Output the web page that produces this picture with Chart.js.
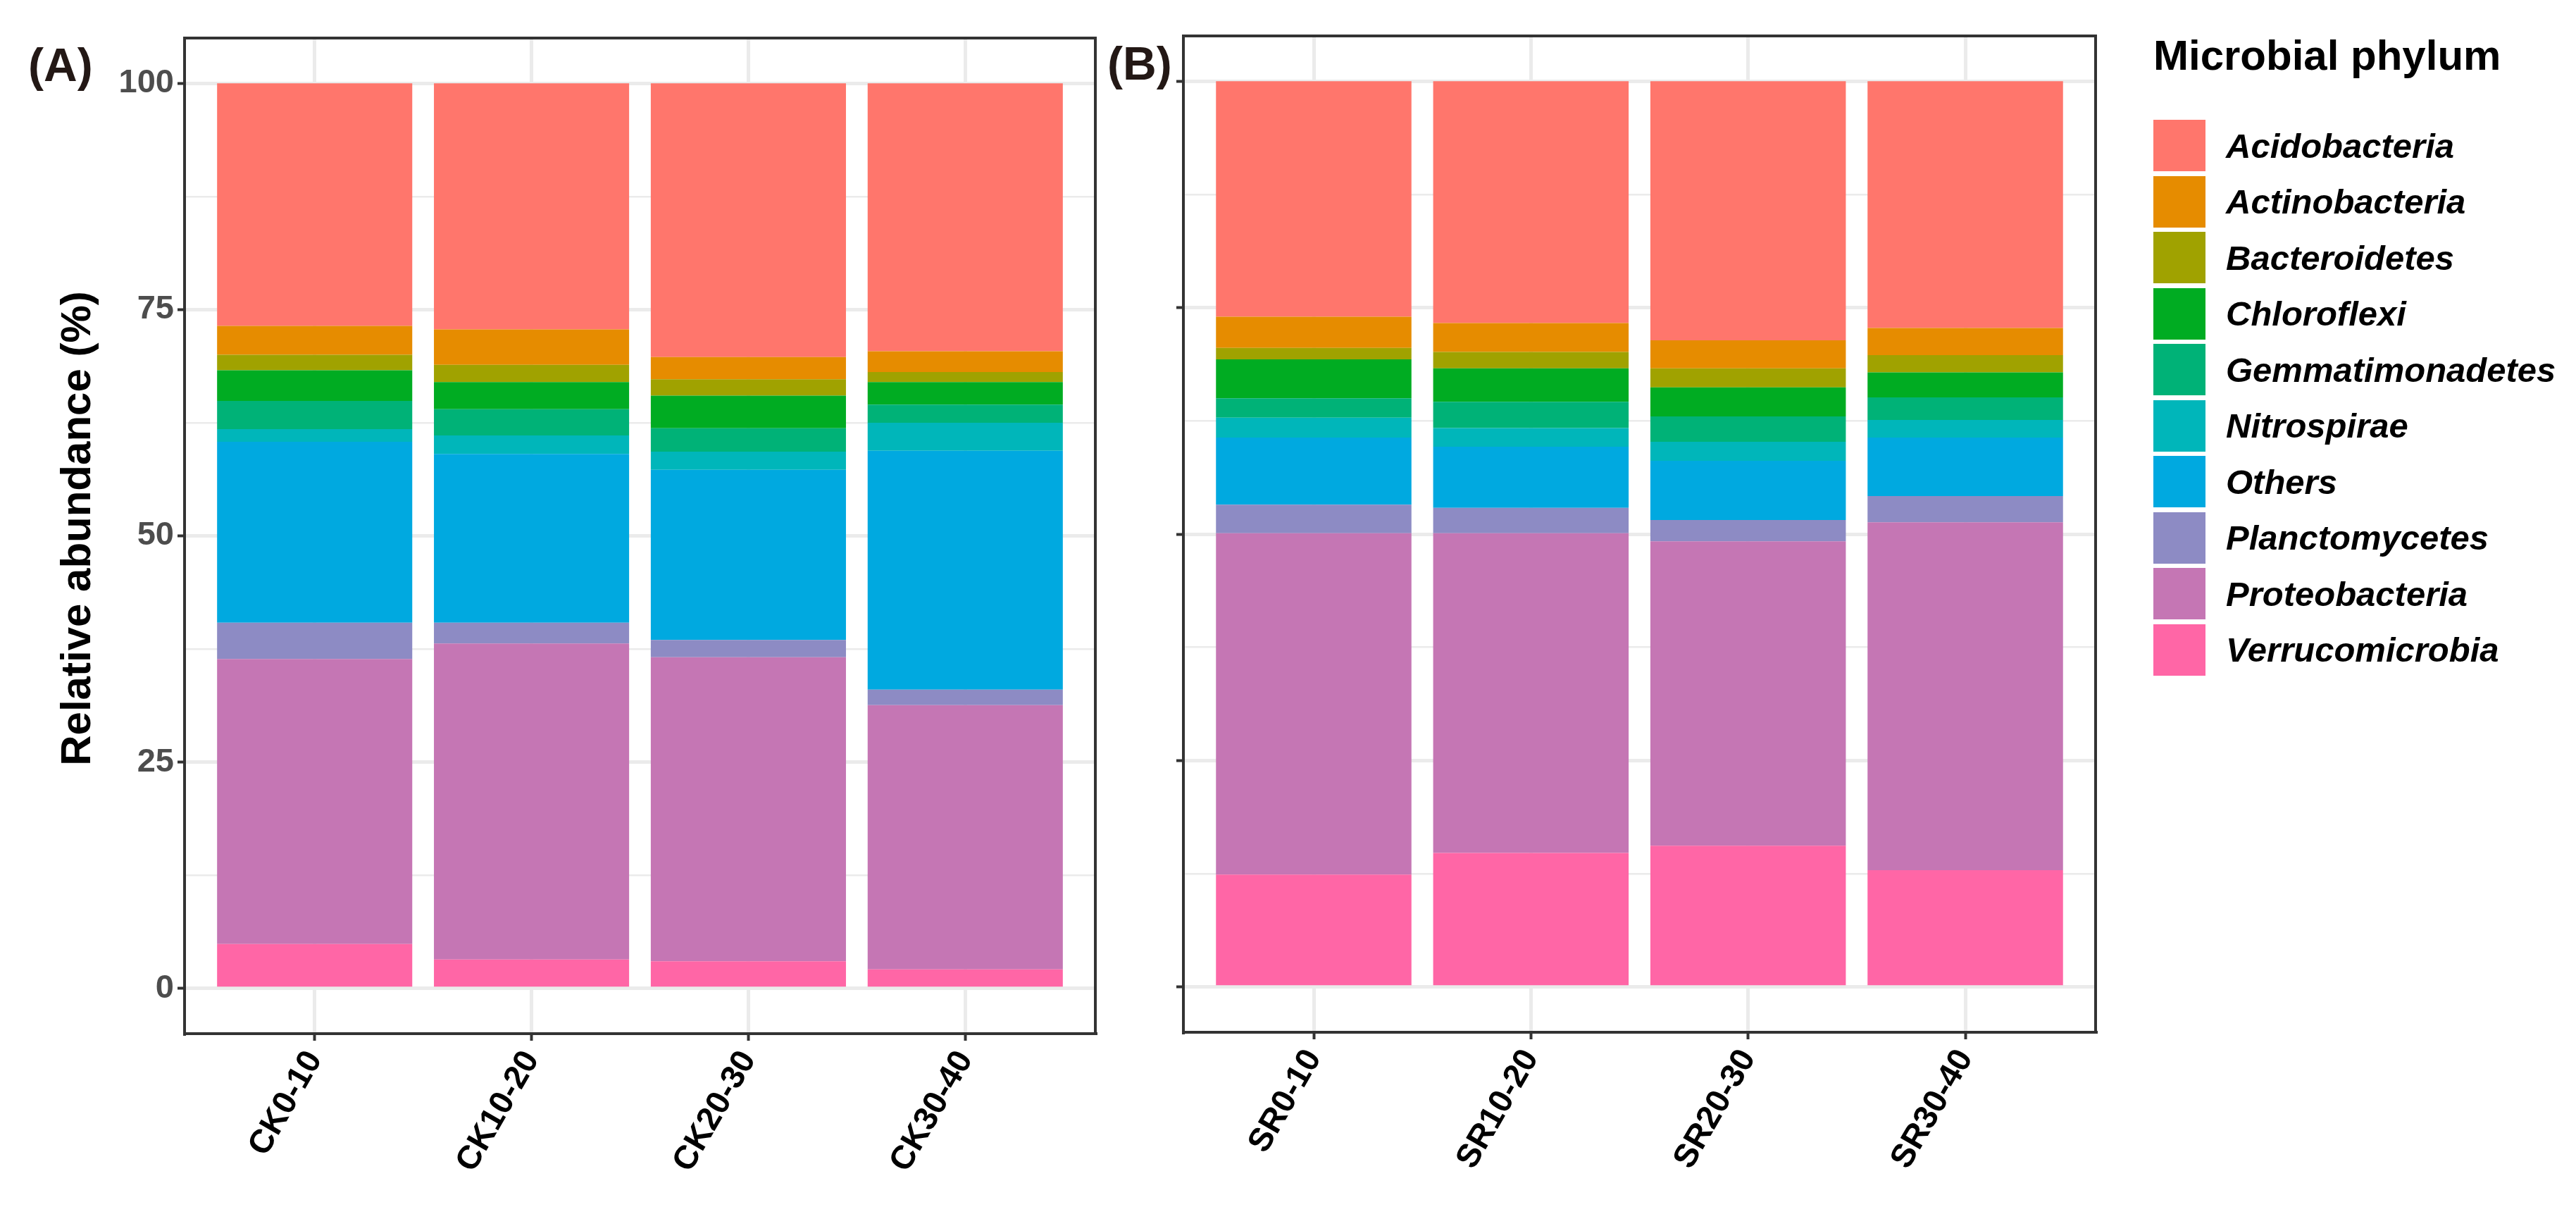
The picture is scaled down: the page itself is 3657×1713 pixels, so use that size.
<!DOCTYPE html>
<html>
<head>
<meta charset="utf-8">
<script src="https://cdn.jsdelivr.net/npm/chart.js@4.4.1/dist/chart.umd.min.js"></script>
<style>
  body { margin: 0; background: #fff; width: 3657px; height: 1713px; position: relative; overflow: hidden;
         font-family: 'Liberation Sans', Arial, sans-serif; }
  canvas { position: absolute; top: 0; }
  #cA { left: 0; }
  #cB { left: 1500px; }
  #legend { position: absolute; left: 3057px; top: 0; }
  #legend .title { position: absolute; top: 49px; left: 0; font-weight: bold; font-size: 60px; line-height: 60px; white-space: nowrap; color: #000; }
  #legend .rows { position: absolute; top: 170px; left: 0; }
  #legend .row { display: flex; align-items: center; height: 73px; margin-bottom: 6.5px; }
  #legend .key { width: 74px; height: 73px; }
  #legend .lab { margin-left: 29px; font-style: italic; font-weight: bold; font-size: 49px; white-space: nowrap; color: #000; }
</style>
</head>
<body>
<canvas id="cA" width="1600" height="1713"></canvas>
<canvas id="cB" width="1520" height="1713"></canvas>
<div id="legend">
  <div class="title">Microbial phylum</div>
  <div class="rows" id="legendRows"></div>
</div>
<script>
const phyla = ['Acidobacteria', 'Actinobacteria', 'Bacteroidetes', 'Chloroflexi', 'Gemmatimonadetes',
               'Nitrospirae', 'Others', 'Planctomycetes', 'Proteobacteria', 'Verrucomicrobia'];
const phylumColors = ['#FF766C', '#E68C00', '#A0A200', '#00AC22', '#00B277',
                      '#00B6BA', '#00A9E0', '#8D8BC4', '#C576B4', '#FF66A6'];

const ckLabels = ['CK0-10', 'CK10-20', 'CK20-30', 'CK30-40'];
const srLabels = ['SR0-10', 'SR10-20', 'SR20-30', 'SR30-40'];

// relative abundance (%), one row per phylum (same order as phyla), one column per sample
const ckValues = [
  [26.8, 27.2, 30.25, 29.6],   // Acidobacteria
  [3.2, 3.9, 2.45, 2.3],       // Actinobacteria
  [1.7, 1.9, 1.8, 1.1],        // Bacteroidetes
  [3.4, 3.0, 3.6, 2.5],        // Chloroflexi
  [3.1, 2.9, 2.6, 2.0],        // Gemmatimonadetes
  [1.4, 2.05, 2.0, 3.1],       // Nitrospirae
  [20.0, 18.65, 18.8, 26.4],   // Others
  [4.0, 2.3, 1.9, 1.7],        // Planctomycetes
  [31.5, 34.9, 33.6, 29.2],    // Proteobacteria
  [4.9, 3.2, 3.0, 2.1]         // Verrucomicrobia
];
const srValues = [
  [26.0, 26.7, 28.6, 27.25],
  [3.45, 3.2, 3.1, 3.0],
  [1.25, 1.8, 2.1, 1.9],
  [4.3, 3.7, 3.2, 2.75],
  [2.15, 2.9, 2.8, 2.5],
  [2.2, 2.05, 2.1, 1.95],
  [7.4, 6.75, 6.55, 6.45],
  [3.15, 2.8, 2.35, 2.9],
  [37.7, 35.3, 33.6, 38.4],
  [12.4, 14.8, 15.6, 12.9]
];

const yMajor = [0, 25, 50, 75, 100];
const yMinor = [12.5, 37.5, 62.5, 87.5];

const FONT = "'Liberation Sans', Arial, sans-serif";

// ggplot stacks the first level on top, so the last phylum goes first (bottom)
function makeDatasets(values) {
  return phyla.map((name, i) => ({
    label: name,
    data: values[i].map((v, j) => ({ x: j, y: v })),
    backgroundColor: phylumColors[i],
    borderWidth: 0,
    barPercentage: 0.9,
    categoryPercentage: 1
  })).reverse();
}

const framePlugin = {
  id: 'panelFrame',
  afterDraw(chart) {
    const { ctx, chartArea: a } = chart;
    ctx.save();
    ctx.strokeStyle = '#333';
    ctx.lineWidth = 4;
    ctx.strokeRect(a.left, a.top, a.right - a.left, a.bottom - a.top);
    ctx.restore();
  }
};

function textPlugin(draw) {
  return { id: 'panelText', afterDraw(chart) { const ctx = chart.ctx; ctx.save(); draw(ctx); ctx.restore(); } };
}

function makePanel(id, labels, values, yWidth, showY, top, xHeight, extra) {
  return new Chart(document.getElementById(id), {
    type: 'bar',
    data: { datasets: makeDatasets(values) },
    options: {
      responsive: false,
      animation: false,
      events: [],
      layout: { padding: { left: 0, top: top, right: 45, bottom: 0 } },
      plugins: { legend: { display: false }, tooltip: { enabled: false } },
      scales: {
        x: {
          type: 'linear',
          stacked: true,
          min: -0.6,
          max: 3.6,
          offset: false,
          afterBuildTicks: s => { s.ticks = labels.map((l, i) => ({ value: i })); },
          afterFit: s => { s.height = xHeight; },
          grid: { offset: false, color: '#ebebeb', lineWidth: 5, tickColor: '#333', tickWidth: 4, tickLength: 10 },
          border: { display: true, color: '#333', width: 4 },
          ticks: {
            autoSkip: false, minRotation: 60, maxRotation: 60, padding: 5, color: '#000',
            font: { family: FONT, weight: 'bold', size: 47 },
            callback: v => labels[v]
          }
        },
        y: {
          type: 'linear',
          stacked: true,
          min: -5,
          max: 105,
          afterBuildTicks: s => { s.ticks = yMajor.concat(yMinor).sort((a, b) => a - b).map(v => ({ value: v })); },
          afterFit: s => { s.width = yWidth; },
          grid: {
            color: '#ebebeb',
            lineWidth: c => (c.tick && yMajor.includes(c.tick.value)) ? 5 : 2.5,
            tickColor: c => (c.tick && yMajor.includes(c.tick.value)) ? '#333' : 'rgba(0,0,0,0)',
            tickWidth: 4,
            tickLength: 10
          },
          border: { display: true, color: '#333', width: 4 },
          ticks: {
            autoSkip: false, padding: 5, color: '#4d4d4d',
            font: { family: FONT, weight: 'bold', size: 47 },
            callback: v => (showY && yMajor.includes(v)) ? String(v) : ''
          }
        }
      }
    },
    plugins: [framePlugin, textPlugin(extra)]
  });
}

makePanel('cA', ckLabels, ckValues, 262, true, 54, 246, ctx => {
  ctx.fillStyle = '#231815';
  ctx.font = 'bold 66px ' + FONT;
  ctx.fillText('(A)', 40, 115);
  ctx.translate(128, 750);
  ctx.rotate(-Math.PI / 2);
  ctx.textAlign = 'center';
  ctx.fillStyle = '#000';
  ctx.font = 'bold 60px ' + FONT;
  ctx.fillText('Relative abundance (%)', 0, 0);
});

makePanel('cB', srLabels, srValues, 180, false, 51, 248, ctx => {
  ctx.fillStyle = '#231815';
  ctx.font = 'bold 66px ' + FONT;
  ctx.fillText('(B)', 72, 113);
});

// legend
const rows = document.getElementById('legendRows');
phyla.forEach((name, i) => {
  const row = document.createElement('div');
  row.className = 'row';
  const key = document.createElement('div');
  key.className = 'key';
  key.style.background = phylumColors[i];
  const lab = document.createElement('div');
  lab.className = 'lab';
  lab.textContent = name;
  row.appendChild(key);
  row.appendChild(lab);
  rows.appendChild(row);
});
</script>
</body>
</html>
